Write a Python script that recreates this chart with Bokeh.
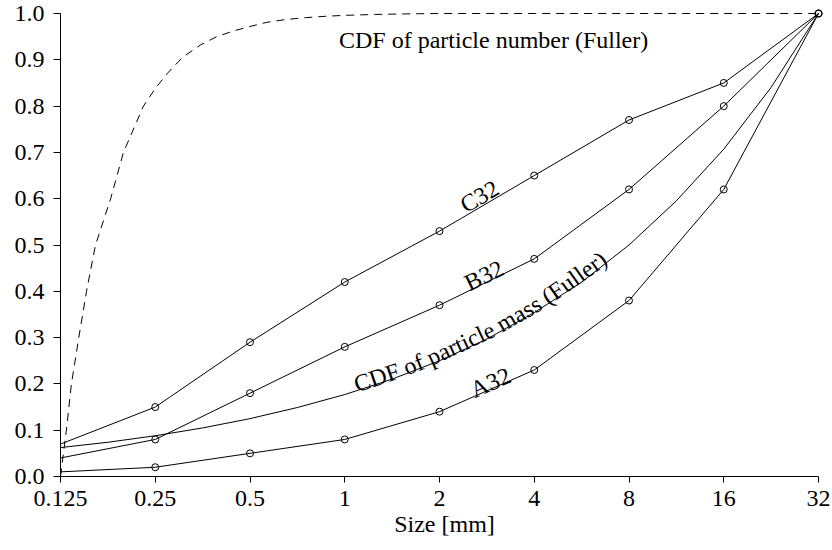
import numpy as np
from bokeh.plotting import figure
from bokeh.models import Range1d, FixedTicker, CustomJSTickFormatter, PrintfTickFormatter
from bokeh.core.properties import value
from bokeh.embed import file_html
from bokeh.resources import INLINE

# ---------------- data ----------------
x_ticks = [0.125, 0.25, 0.5, 1, 2, 4, 8, 16, 32]
y_ticks = [0.0, 0.1, 0.2, 0.3, 0.4, 0.5, 0.6, 0.7, 0.8, 0.9, 1.0]

sizes = [0.125, 0.25, 0.5, 1, 2, 4, 8, 16, 32]
a32 = [0.01, 0.02, 0.05, 0.08, 0.14, 0.23, 0.38, 0.62, 1.0]
b32 = [0.04, 0.08, 0.18, 0.28, 0.37, 0.47, 0.62, 0.80, 1.0]
c32 = [0.07, 0.15, 0.29, 0.42, 0.53, 0.65, 0.77, 0.85, 1.0]

mass_sizes = [0.125, 0.177, 0.25, 0.354, 0.5, 0.707, 1, 1.41, 2, 2.83, 4, 5.66, 8, 11.3, 16, 22.6, 32]
mass_vals = [0.0625, 0.074, 0.088, 0.105, 0.125, 0.149, 0.177, 0.21, 0.25, 0.297, 0.354, 0.42, 0.5, 0.595, 0.707, 0.84, 1.0]

num_sizes = [0.125, 0.1305, 0.1354, 0.1429, 0.1512, 0.1615, 0.1804, 0.1981, 0.2293, 0.25,
             0.2726, 0.3049, 0.348, 0.392, 0.442, 0.5, 0.566, 0.65, 0.75, 0.87, 1.0,
             1.25, 1.5, 2.0, 4.0, 32]
num_vals = [0.0, 0.10, 0.20, 0.30, 0.40, 0.50, 0.60, 0.70, 0.80, 0.838,
            0.87, 0.905, 0.932, 0.950, 0.962, 0.972, 0.981, 0.987, 0.991, 0.994, 0.996,
            0.998, 0.999, 1.0, 1.0, 1.0]

series_labels = ["A32", "B32", "C32"]
mass_label = "CDF of particle mass (Fuller)"
number_label = "CDF of particle number (Fuller)"
x_label = "Size [mm]"

# ---------------- layout ----------------
FONT = "Liberation Serif"
FS = "24px"
W, H = 832, 550
X0, X1 = 60, 818          # pixel of first / last x tick
Y0, Y1 = 476, 13          # pixel of y=0 / y=1
FR, FT = 828, 4           # frame right / top pixel
OCT = (X1 - X0) / 8.0
PYU = float(Y0 - Y1)

x_end = 32 * 2 ** ((FR - X1) / OCT)
y_end = 1 + (Y1 - FT) / PYU

p = figure(width=W, height=H, x_axis_type="log",
           x_range=Range1d(0.125, x_end), y_range=Range1d(0, y_end),
           output_backend="svg", toolbar_location=None,
           min_border_left=X0, min_border_right=W - FR,
           min_border_top=FT, min_border_bottom=H - Y0)
p.outline_line_color = None
p.xgrid.visible = False
p.ygrid.visible = False
p.background_fill_color = "white"
p.border_fill_color = "white"

xa = p.xaxis[0]
xa.ticker = FixedTicker(ticks=x_ticks)
xa.formatter = CustomJSTickFormatter(code="return String(tick);")
xa.bounds = (0.125, 32)
xa.axis_label = x_label
xa.axis_label_text_font = FONT
xa.axis_label_text_font_size = FS
xa.axis_label_text_font_style = "normal"
xa.axis_label_text_color = "black"
xa.axis_label_standoff = 2
xa.major_label_standoff = 8
xa.major_tick_out = 6
xa.major_tick_in = 0

ya = p.yaxis[0]
ya.ticker = FixedTicker(ticks=y_ticks)
ya.formatter = PrintfTickFormatter(format="%.1f")
ya.bounds = (0, 1)
ya.major_label_standoff = 9
ya.major_tick_out = 7
ya.major_tick_in = 0

for ax in (xa, ya):
    ax.axis_line_color = "black"
    ax.axis_line_width = 1
    ax.major_tick_line_color = "black"
    ax.minor_tick_line_color = None
    ax.major_label_text_font = FONT
    ax.major_label_text_font_size = FS
    ax.major_label_text_color = "black"

# ---------------- curves ----------------
p.line(num_sizes, num_vals, line_color="black", line_width=1, line_dash="8 6")
p.line(mass_sizes, mass_vals, line_color="black", line_width=1)
for vals in (a32, b32, c32):
    p.line(sizes, vals, line_color="black", line_width=1)
    p.scatter(sizes[1:], vals[1:], marker="circle", size=7,
              fill_color=None, line_color="black", line_width=1)

# ---------------- labels ----------------
def to_data(px, py):
    return 0.125 * 2 ** ((px - X0) / OCT), (Y0 - py) / PYU

# series labels: baseline centre (px) and angle (deg)
lab_px = [(490, 382, 23.7), (483.5, 275, 26.0), (479, 196, 30.4)]
lx, ly, la = [], [], []
for (px, py, ang) in lab_px:
    dx, dy = to_data(px, py)
    lx.append(dx); ly.append(dy); la.append(np.radians(ang))
p.text(x=lx, y=ly, text=series_labels, angle=la, text_align="center",
       text_baseline="alphabetic", text_font=value(FONT), text_font_size=FS,
       text_color="black")

nx, ny = to_data(338.5, 39.5)
p.text(x=[nx], y=[ny], text=[number_label], text_align="left",
       text_baseline="alphabetic", text_font=value(FONT), text_font_size=FS,
       text_color="black")

# mass label following the curve, word by word
widths = {"C": .667, "D": .722, "F": .556, "o": .5, "f": .333, "p": .5, "a": .444,
          "r": .333, "t": .278, "i": .278, "c": .444, "l": .278, "e": .444, "m": .778,
          "s": .389, "(": .333, ")": .333, "u": .5, " ": .25}
em = 24.0
mx = X0 + np.log2(np.array(mass_sizes) / 0.125) * OCT
my = Y0 - np.array(mass_vals) * PYU
arc = np.concatenate([[0], np.cumsum(np.hypot(np.diff(mx), np.diff(my)))])

def at(s):
    return np.interp(s, arc, mx), np.interp(s, arc, my)

s = np.interp(356.0, mx, arc)
OFF = 6.0
wx, wy, wa, wt = [], [], [], []
for word in mass_label.split(" "):
    w = sum(widths.get(ch, 0.5) for ch in word) * em
    xa_, ya_ = at(s)
    xb_, yb_ = at(s + w)
    ang = np.arctan2(ya_ - yb_, xb_ - xa_)
    cx, cy = (xa_ + xb_) / 2, (ya_ + yb_) / 2
    cx += -np.sin(ang) * OFF
    cy += -np.cos(ang) * OFF
    dx, dy = to_data(cx, cy)
    wx.append(dx); wy.append(dy); wa.append(ang); wt.append(word)
    s += w + widths[" "] * em
p.text(x=wx, y=wy, text=wt, angle=wa, text_align="center",
       text_baseline="alphabetic", text_font=value(FONT), text_font_size=FS,
       text_color="black")

open("out.html", "w").write(file_html(p, INLINE))
